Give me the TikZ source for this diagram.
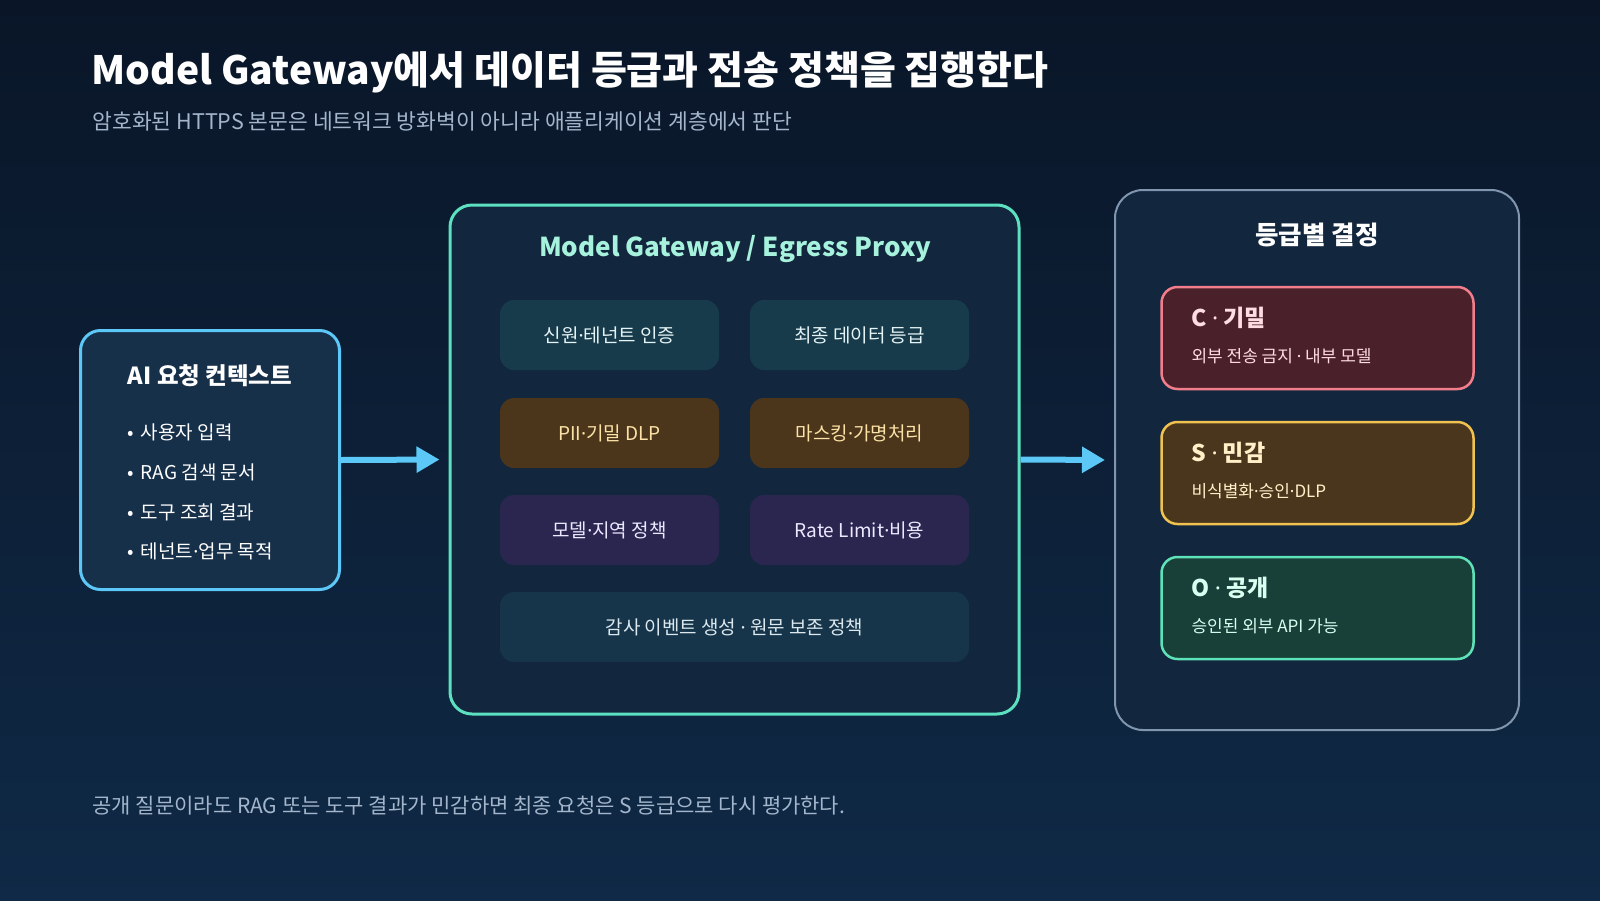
\documentclass[tikz,border=0pt]{standalone}
\usepackage{fontspec}
\setmainfont{Noto Sans CJK KR}
\newfontfamily\latinfont{Noto Sans}
\usepackage{xcolor}
\usetikzlibrary{arrows.meta, positioning}

\definecolor{bgtop}{HTML}{0A1628}
\definecolor{bgbot}{HTML}{0F2946}
\definecolor{ctxblue}{HTML}{5BC8F7}
\definecolor{ctxfill}{HTML}{17304A}
\definecolor{gwmint}{HTML}{5CE1C0}
\definecolor{gwfill}{HTML}{12263E}
\definecolor{gwtitle}{HTML}{A6F2DD}
\definecolor{authfill}{HTML}{173B4B}
\definecolor{authtext}{HTML}{E4F3F5}
\definecolor{dlpfill}{HTML}{4B361C}
\definecolor{dlptext}{HTML}{FCE2A6}
\definecolor{polfill}{HTML}{2A2650}
\definecolor{poltext}{HTML}{ECE8FF}
\definecolor{auditfill}{HTML}{16354A}
\definecolor{audittext}{HTML}{DCE8EE}
\definecolor{tierline}{HTML}{8096AF}
\definecolor{cfill}{HTML}{4A202A}
\definecolor{cline}{HTML}{F27E8B}
\definecolor{ctext}{HTML}{FFDDE2}
\definecolor{sfill}{HTML}{4A361C}
\definecolor{sline}{HTML}{F0C24F}
\definecolor{stext}{HTML}{FFF0C8}
\definecolor{ofill}{HTML}{183F38}
\definecolor{oline}{HTML}{5EE3B8}
\definecolor{otext}{HTML}{D8FFF0}
\definecolor{subgray}{HTML}{A3B6CC}

\newcommand{\fsz}[1]{\fontsize{#1}{#1}\selectfont}
% narrow middle dot
\newcommand{\md}{{\latinfont ·}}

\tikzset{
  panel/.style={line width=3pt, inner sep=0pt},
  cell/.style={rounded corners=14pt, minimum width=219pt, minimum height=70pt, inner sep=0pt, font=\fsz{19}},
  tierbox/.style={line width=2.5pt, rounded corners=16pt, minimum width=312pt, minimum height=102pt, inner sep=0pt},
  tiername/.style={anchor=west, font=\fsz{23}\bfseries},
  tiernote/.style={anchor=west, font=\fsz{17}},
  item/.style={anchor=west, font=\fsz{19}, text=white},
  flow/.style={line width=6pt, color=ctxblue, -{Triangle[length=23pt,width=25pt]}, shorten >=9pt},
}

\begin{document}
\begin{tikzpicture}[x=1pt, y=-1pt]
  % background
  \useasboundingbox (0,0) rectangle (1600,900);
  \shade[top color=bgtop, bottom color=bgbot] (0,0) rectangle (1600,900);

  % heading
  \node[anchor=west, font=\fsz{39}\bfseries, text=white] (head) at (88,72) {Model Gateway에서 데이터 등급과 전송 정책을 집행한다};
  \node[anchor=west, font=\fsz{21.5}, text=subgray] (subhead) at (89,121) {암호화된 HTTPS 본문은 네트워크 방화벽이 아니라 애플리케이션 계층에서 판단};

  % request context
  \node[panel, draw=ctxblue, fill=ctxfill, rounded corners=20pt, minimum width=259pt, minimum height=259pt] (ctx) at (210,460) {};
  \node[font=\fsz{23.5}\bfseries, text=white] (ctxhead) at (210,376) {AI 요청 컨텍스트};
  \node[item] (in1) at (124,432) {•\hspace{7pt}사용자 입력};
  \node[item] (in2) at (124,472) {•\hspace{7pt}RAG 검색 문서};
  \node[item] (in3) at (124,512) {•\hspace{7pt}도구 조회 결과};
  \node[item] (in4) at (124,551) {•\hspace{7pt}테넌트\md 업무 목적};

  % gateway
  \node[panel, draw=gwmint, fill=gwfill, rounded corners=22pt, minimum width=569pt, minimum height=509pt] (gw) at (734.5,459.5) {};
  \node[font=\fsz{26}\bfseries, text=gwtitle] (gwhead) at (735,249) {Model Gateway / Egress Proxy};
  \node[cell, fill=authfill, text=authtext] (auth) at (609.5,335) {신원\md 테넌트 인증};
  \node[cell, fill=authfill, text=authtext] (grade) at (859.5,335) {최종 데이터 등급};
  \node[cell, fill=dlpfill, text=dlptext] (dlp) at (609.5,433) {PII\md 기밀 DLP};
  \node[cell, fill=dlpfill, text=dlptext] (mask) at (859.5,433) {마스킹\md 가명처리};
  \node[cell, fill=polfill, text=poltext] (region) at (609.5,530) {모델\md 지역 정책};
  \node[cell, fill=polfill, text=poltext] (rate) at (859.5,530) {Rate Limit\md 비용};
  \node[cell, fill=auditfill, text=audittext, minimum width=469pt] (audit) at (734.5,627) {감사 이벤트 생성 \md{} 원문 보존 정책};

  % decision per grade
  \node[line width=2pt, draw=tierline, fill=gwfill, rounded corners=28pt, minimum width=404pt, minimum height=540pt, inner sep=0pt] (tier) at (1317,460) {};
  \node[font=\fsz{25.5}\bfseries, text=white] (tierhead) at (1317,235) {등급별 결정};

  \node[tierbox, draw=cline, fill=cfill] (cgrade) at (1317.5,338) {};
  \node[tiername, text=ctext] (cname) at (1188,318) {C \md{} 기밀};
  \node[tiernote, text=ctext] (cnote) at (1188,356) {외부 전송 금지 \md{} 내부 모델};

  \node[tierbox, draw=sline, fill=sfill] (sgrade) at (1317.5,473) {};
  \node[tiername, text=stext] (sname) at (1188,453) {S \md{} 민감};
  \node[tiernote, text=stext] (snote) at (1188,491) {비식별화\md 승인\md DLP};

  \node[tierbox, draw=oline, fill=ofill] (ograde) at (1317.5,608) {};
  \node[tiername, text=otext] (oname) at (1188,588) {O \md{} 공개};
  \node[tiernote, text=otext] (onote) at (1188,626) {승인된 외부 API 가능};

  % arrows
  \draw[flow] (ctx.east) -- (gw.west);
  \draw[flow] (gw.east) -- (tier.west);

  % footnote
  \node[anchor=west, font=\fsz{21}, text=subgray] (foot) at (89,806) {공개 질문이라도 RAG 또는 도구 결과가 민감하면 최종 요청은 S 등급으로 다시 평가한다.};
\end{tikzpicture}
\end{document}
